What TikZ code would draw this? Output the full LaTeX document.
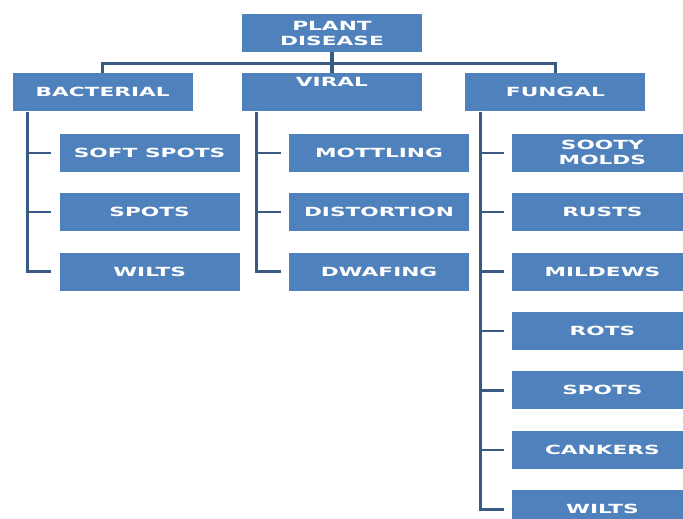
\documentclass[tikz,border=0pt]{standalone}
\usepackage{fontspec}
\newfontfamily\boxfont{DejaVu Sans}[FakeStretch=1.72]
\usepackage{tikz}
\usetikzlibrary{positioning}

\definecolor{boxblue}{HTML}{4F81BD}
\definecolor{linkblue}{HTML}{3A5A86}

\begin{document}
\begin{tikzpicture}[
        node distance=21pt,
        box/.style={rectangle, fill=boxblue, text=white, minimum width=180pt,
            minimum height=38pt, inner sep=0pt, align=center,
            font=\boxfont\bfseries\fontsize{12.6}{15}\selectfont},
        link/.style={draw=linkblue, line width=3.2pt},
        tick/.style={draw=linkblue, line width=2.4pt, shorten >=8pt}
    ]
        \clip (0pt,0pt) rectangle (683pt,-519pt);

        % Add the top levels
        \node[box] (root) at (332pt,-33pt) {PLANT\\DISEASE};
        \node[box, below=of root]     (vir) {VIRAL\\[6pt]\mbox{}};
        \node[box, left=49pt of vir]  (bac) {BACTERIAL};
        \node[box, right=43pt of vir] (fun) {FUNGAL};

        % Add the kinds of each group
        \node[box, below=22pt of bac.south west, anchor=north west, xshift=47pt] (bac1) {SOFT SPOTS};
        \node[box, below=of bac1] (bac2) {SPOTS};
        \node[box, below=of bac2] (bac3) {WILTS};

        \node[box, below=22pt of vir.south west, anchor=north west, xshift=47pt] (vir1) {MOTTLING};
        \node[box, below=of vir1] (vir2) {DISTORTION};
        \node[box, below=of vir2] (vir3) {DWAFING};

        \node[box, below=22pt of fun.south west, anchor=north west, xshift=47pt] (fun1) {SOOTY\\MOLDS};
        \node[box, below=of fun1] (fun2) {RUSTS};
        \node[box, below=of fun2] (fun3) {MILDEWS};
        \node[box, below=of fun3] (fun4) {ROTS};
        \node[box, below=of fun4] (fun5) {SPOTS};
        \node[box, below=of fun5] (fun6) {CANKERS};
        \node[box, below=of fun6] (fun7) {WILTS};

        % Connect the top levels
        \coordinate[below=11pt of root.south] (bar);
        \draw[link] (root.south) -- (vir.north);
        \draw[link] (bac.north) |- (bar) -| (fun.north);

        % Connect each group to its kinds
        \coordinate[right=15pt of bac.south west] (bacline);
        \coordinate[right=15pt of vir.south west] (virline);
        \coordinate[right=15pt of fun.south west] (funline);

        \draw[link, shorten >=8pt] (bacline) |- (bac3.west);
        \draw[link, shorten >=8pt] (virline) |- (vir3.west);
        \draw[link, shorten >=8pt] (funline) |- (fun7.west);

        \foreach \k in {1,2}
            \draw[tick] (bacline |- bac\k.west) -- (bac\k.west);
        \foreach \k in {1,2}
            \draw[tick] (virline |- vir\k.west) -- (vir\k.west);
        \foreach \k in {1,...,6}
            \draw[tick] (funline |- fun\k.west) -- (fun\k.west);
    \end{tikzpicture}
\end{document}
